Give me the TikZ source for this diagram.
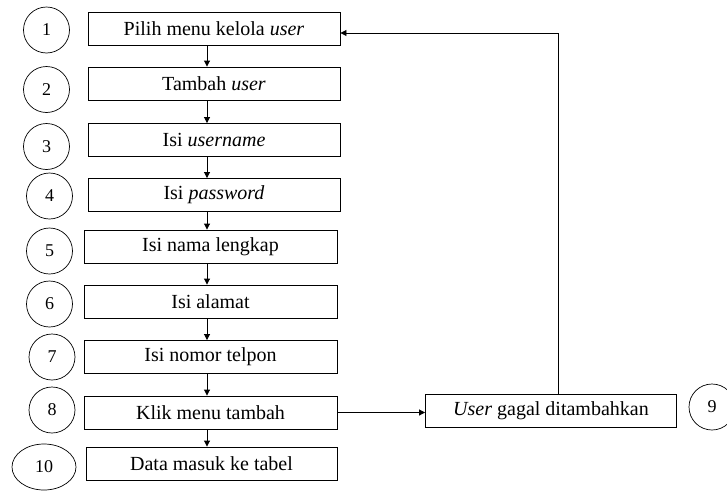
\documentclass[tikz,border=0pt]{standalone}
\usepackage{fontspec}
\setmainfont{Liberation Serif}
\usepackage{tikz}
\usetikzlibrary{arrows.meta, shapes.geometric}
\tikzset{
  etape/.style={draw, line width=0.9pt, minimum width=252pt, minimum height=33pt,
    inner sep=0pt, font=\fontsize{20}{22}\selectfont},
  numero/.style={draw, circle, line width=0.7pt, minimum size=46pt, inner sep=0pt,
    font=\fontsize{18}{20}\selectfont},
  fleche/.style={line width=0.9pt, -{Triangle[length=6pt, width=6pt]}}
}

\begin{document}
\begin{tikzpicture}[x=1pt, y=-1pt]
        \useasboundingbox (0,0) rectangle (727,490);
        % Étapes
        \node[etape] (b1) at (214,28.5) {Pilih menu kelola \textit{user}};
        \node[etape] (b2) at (214,83.5) {Tambah \textit{user}};
        \node[etape] (b3) at (214,140) {Isi \textit{username}};
        \node[etape] (b4) at (214,195) {Isi \textit{password}};
        \node[etape, minimum width=253pt] (b5) at (210.5,246.5) {Isi nama lengkap};
        \node[etape, minimum width=253pt] (b6) at (210.5,301.5) {Isi alamat};
        \node[etape, minimum width=253pt] (b7) at (210.5,357) {Isi nomor telpon};
        \node[etape, minimum width=253pt] (b8) at (210.5,412.5) {Klik menu tambah};
        \node[etape, minimum width=251pt] (b9) at (551,411) {\textit{User} gagal ditambahkan};
        \node[etape, minimum width=251pt] (b10) at (211.5,463.5) {Data masuk ke tabel};
        % Numéros
        \node[numero] (n1) at (46.5,30) {1};
        \node[numero] (n2) at (46.5,89.5) {2};
        \node[numero] (n3) at (46.5,146.5) {3};
        \node[numero] (n4) at (49.5,196) {4};
        \node[numero] (n5) at (49.5,251) {5};
        \node[numero] (n6) at (49.5,304) {6};
        \node[numero] (n7) at (52,357) {7};
        \node[numero] (n8) at (52,410) {8};
        \node[numero] (n9) at (712,407) {9};
        \node[numero, ellipse, minimum width=64pt, minimum height=46pt] (n10) at (44,467) {10};
        % Flèches
        \coordinate (ax) at (207,0);
        \coordinate (rx) at (558,0);
        \foreach \a/\b in {b1/b2, b2/b3, b3/b4, b4/b5, b5/b6, b6/b7, b7/b8, b8/b10}
          \draw[fleche] (\a.south -| ax) -- (\b.north -| ax);
        \draw[fleche] (b8.east) -- (b8.east -| b9.west);
        \draw[fleche] (b9.north -| rx) |- ([yshift=-4.5pt]b1.east);
      \end{tikzpicture}
\end{document}
